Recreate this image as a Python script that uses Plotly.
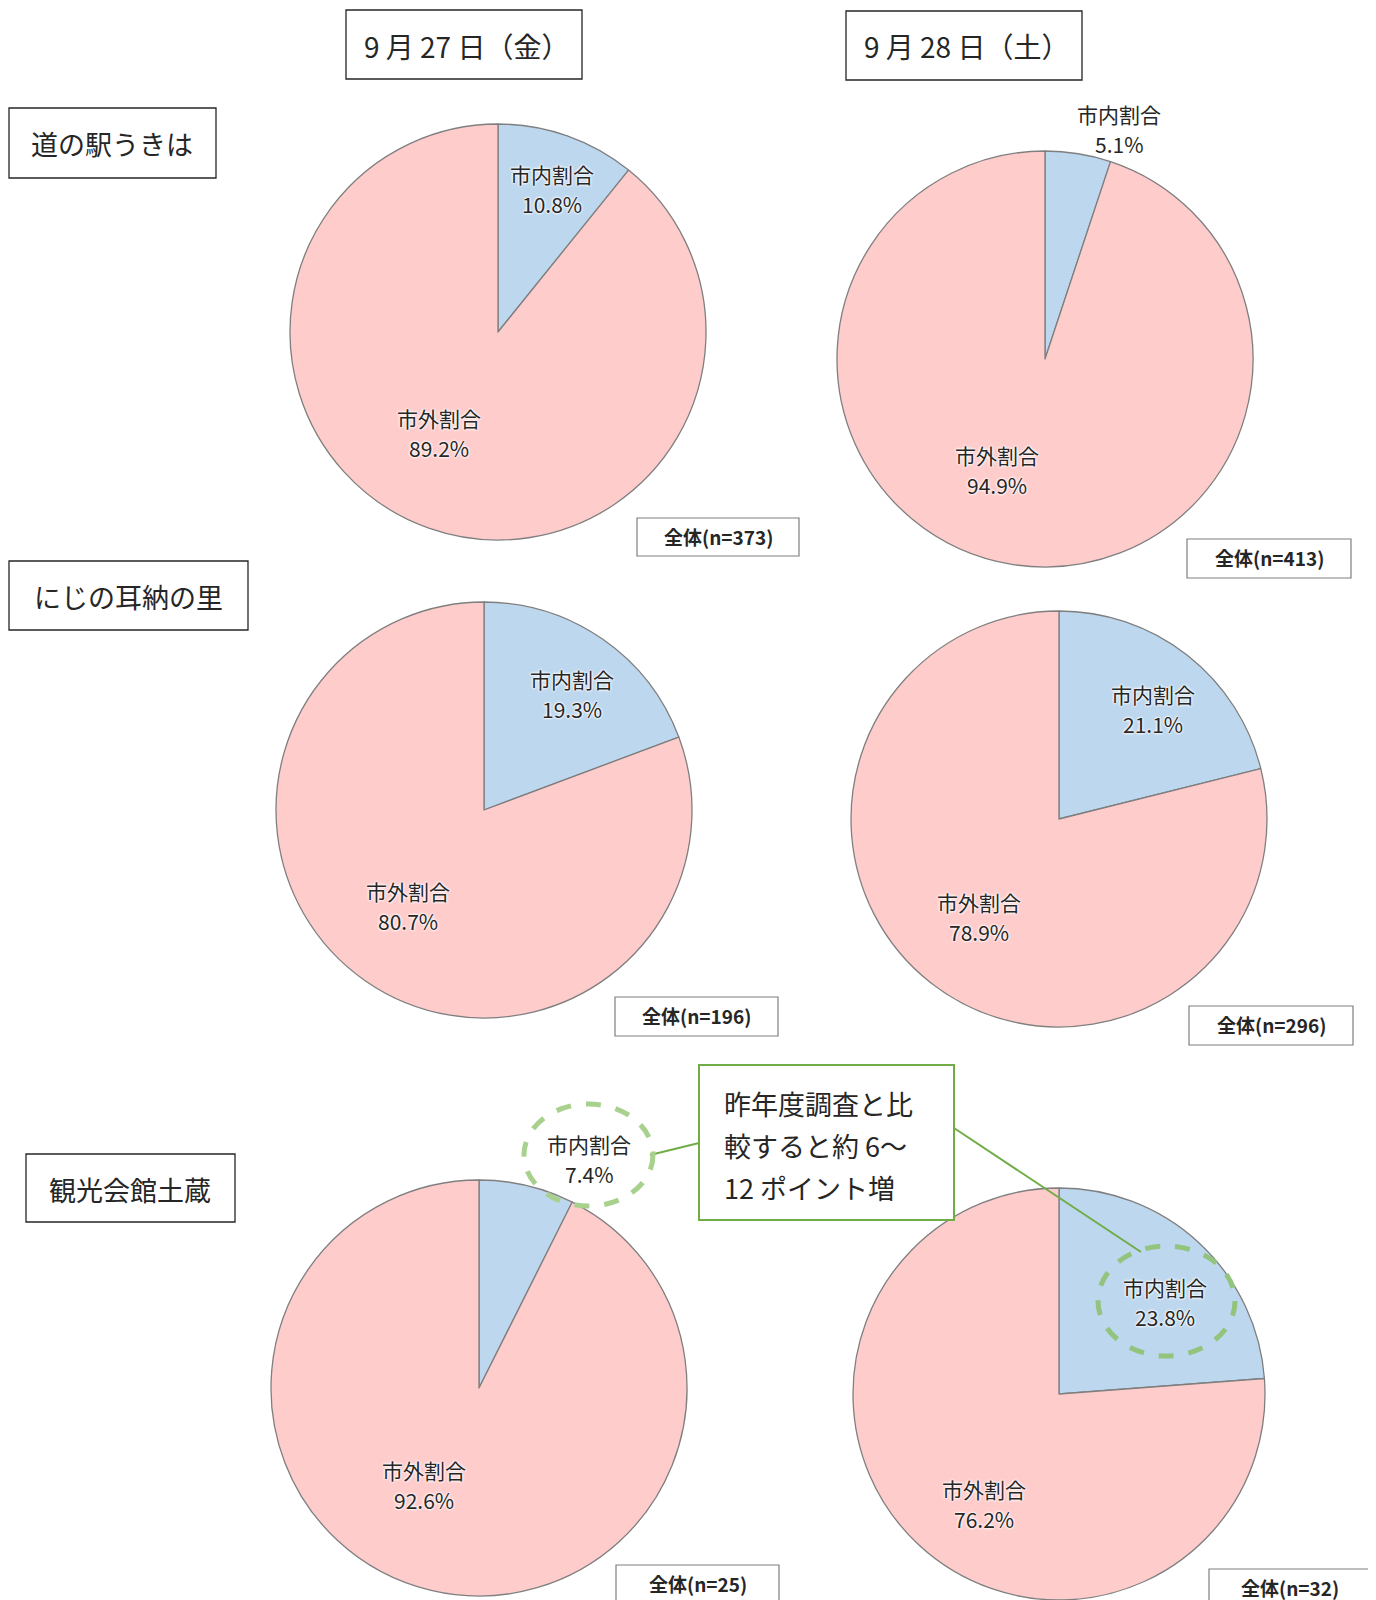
import plotly.graph_objects as go

# page body has an 8px default margin, so the figure is offset by 8px
OFF = 8
W, H = 1376 - OFF, 1600 - OFF

# ---- data ----
slice_names = ["市内割合", "市外割合"]
col_headers = ["9 月 27 日（金）", "9 月 28 日（土）"]
row_labels = ["道の駅うきは", "にじの耳納の里", "観光会館土蔵"]
inner_pct = [10.8, 5.1, 19.3, 21.1, 7.4, 23.8]
outer_pct = [89.2, 94.9, 80.7, 78.9, 92.6, 76.2]
sample_n = [373, 413, 196, 296, 25, 32]
callout_lines = ["昨年度調査と比", "較すると約 6～", "12 ポイント増"]

# ---- layout helpers (page pixel -> paper) ----
def px(x):
    return (x - OFF) / W

def py(y):
    return 1 - (y - OFF) / H

pie_geom = [  # (cx, cy, r) in page pixels
    (498, 332, 208), (1045, 359, 208),
    (484, 810, 208), (1059, 819, 208),
    (479, 1388, 208), (1059, 1394, 206),
]
label_pos = [  # ((inner x, y), (outer x, y))
    ((552, 189), (439, 433)), ((1119, 129), (997, 470)),
    ((572, 694), (408, 906)), ((1153, 709), (979, 917)),
    ((589, 1159), (424, 1485)), ((1165, 1302), (984, 1504)),
]
nbox = [  # x0, y0, x1, y1
    (637, 518, 799, 556), (1187, 539, 1351, 578),
    (615, 997, 778, 1036), (1189, 1006, 1353, 1045),
    (616, 1565, 779, 1610), (1209, 1569, 1371, 1610),
]

BLUE = "#BDD7EE"
PINK = "#FFCCCC"
FONT = "Noto Sans CJK JP"
TXT = "#262626"

fig = go.Figure()
for i, (cx, cy, r) in enumerate(pie_geom):
    fig.add_trace(go.Pie(
        labels=slice_names,
        values=[inner_pct[i], outer_pct[i]],
        sort=False,
        direction="clockwise",
        rotation=0,
        textinfo="none",
        hoverinfo="label+percent",
        marker=dict(colors=[BLUE, PINK], line=dict(color="#7F7F7F", width=1.3)),
        domain=dict(x=[px(cx - r), px(cx + r)], y=[max(0, py(cy + r)), py(cy - r)]),
        showlegend=False,
    ))

shapes = []
annotations = []

def add_box(x0, y0, x1, y1, color="#262626", width=1.3, fill="white"):
    shapes.append(dict(type="rect", xref="paper", yref="paper",
                       x0=px(x0), x1=px(x1), y0=py(y1), y1=py(y0),
                       line=dict(color=color, width=width), fillcolor=fill, layer="above"))

def add_text(x, y, text, size, xanchor="center", color=TXT, weight="normal", shadow=None):
    f = dict(family=FONT, size=size, color=color, weight=weight)
    if shadow:
        f["shadow"] = shadow
    annotations.append(dict(x=px(x), y=py(y), xref="paper", yref="paper", text=text,
                            showarrow=False, xanchor=xanchor, yanchor="middle", font=f))

# column headers
add_box(346, 10, 582, 79)
add_box(846, 11, 1082, 80)
add_text(466, 46, col_headers[0], 28)
add_text(966, 46, col_headers[1], 28)

# row labels
add_box(9, 108, 216, 178)
add_box(9, 561, 248, 630)
add_box(26, 1154, 235, 1222)
add_text(112, 143, row_labels[0], 27)
add_text(128, 596, row_labels[1], 27)
add_text(130, 1189, row_labels[2], 27)

# n boxes
for i, (x0, y0, x1, y1) in enumerate(nbox):
    add_box(x0, y0, x1, y1, color="#7F7F7F", width=1.2)
    add_text((x0 + x1) / 2, y0 + 18, f"全体(n={sample_n[i]})", 19, weight="bold")

# slice labels
glow = "0 0 3px white, 0 0 3px white, 0 0 2px white"
for i, ((ix, iy), (ox, oy)) in enumerate(label_pos):
    add_text(ix, iy - 15, slice_names[0], 21, shadow=glow)
    add_text(ix, iy + 15, f"{inner_pct[i]:.1f}%", 21, shadow=glow)
    add_text(ox, oy - 15, slice_names[1], 21, shadow=glow)
    add_text(ox, oy + 15, f"{outer_pct[i]:.1f}%", 21, shadow=glow)

# callout
GREEN = "#70AD47"
shapes.append(dict(type="line", xref="paper", yref="paper",
                   x0=px(699), y0=py(1143), x1=px(650), y1=py(1155),
                   line=dict(color=GREEN, width=2)))
shapes.append(dict(type="line", xref="paper", yref="paper",
                   x0=px(954), y0=py(1128), x1=px(1141), y1=py(1252),
                   line=dict(color=GREEN, width=2)))
add_box(699, 1065, 954, 1220, color=GREEN, width=2)
for k, line in enumerate(callout_lines):
    add_text(722, 1103 + 42 * k, line, 27, xanchor="left")

# dashed ellipses
shapes.append(dict(type="circle", xref="paper", yref="paper",
                   x0=px(524), x1=px(653), y0=py(1206), y1=py(1104),
                   line=dict(color="#A9D18E", width=5, dash="dash")))
shapes.append(dict(type="circle", xref="paper", yref="paper",
                   x0=px(1098), x1=px(1235), y0=py(1356), y1=py(1246),
                   line=dict(color="#93C47D", width=5, dash="dash")))

fig.update_layout(
    width=W, height=H,
    margin=dict(l=0, r=0, t=0, b=0),
    paper_bgcolor="white", plot_bgcolor="white",
    shapes=shapes, annotations=annotations,
    font=dict(family=FONT),
)
fig.write_html("out.html")
